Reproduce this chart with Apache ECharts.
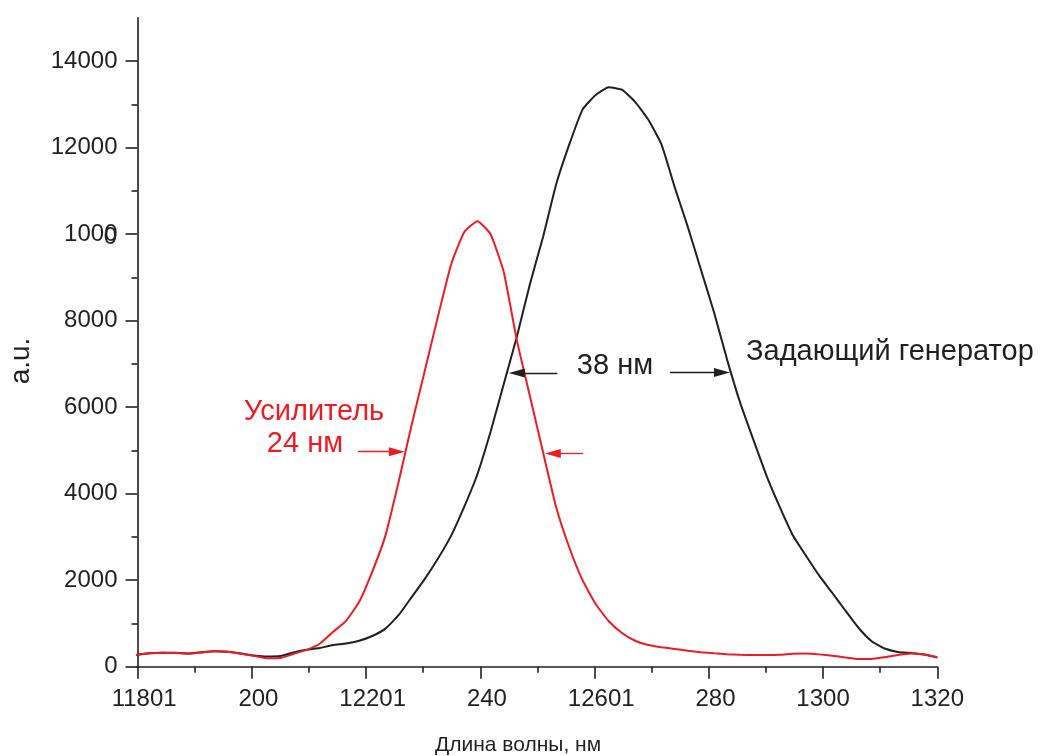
<!DOCTYPE html>
<html>
<head>
<meta charset="utf-8">
<script src="https://cdn.jsdelivr.net/npm/echarts@6/dist/echarts.min.js"></script>
<style>
  html, body { margin: 0; padding: 0; background: #fff; }
  #chart { width: 1041px; height: 756px; }
</style>
</head>
<body>
<div id="chart"></div>
<script>
// wavelength, nm
const wavelength = [
  1179.7, 1182.0, 1184.3, 1186.6, 1188.9, 1191.2, 1193.5, 1195.8, 1198.1, 1200.4,
  1202.7, 1205.0, 1207.3, 1209.6, 1211.9, 1214.2, 1216.5, 1218.8, 1221.1, 1223.4,
  1225.7, 1228.0, 1230.3, 1232.6, 1234.9, 1237.2, 1239.5, 1241.8, 1244.1, 1246.4,
  1248.7, 1251.0, 1253.3, 1255.6, 1257.9, 1260.2, 1262.5, 1264.8, 1267.1, 1269.4,
  1271.7, 1274.0, 1276.3, 1278.6, 1280.9, 1283.2, 1285.5, 1287.8, 1290.1, 1292.4,
  1294.7, 1297.0, 1299.3, 1301.6, 1303.9, 1306.2, 1308.5, 1310.8, 1313.1, 1315.4,
  1317.7, 1320.0
];
// задающий генератор (black)
const generator = [
  270, 310, 325, 320, 305, 335, 360, 345, 305, 260,
  235, 245, 330, 390, 430, 500, 535, 600, 710, 880,
  1190, 1610, 2030, 2500, 3030, 3700, 4450, 5430, 6530, 7630,
  8850, 9940, 11160, 12080, 12880, 13220, 13395, 13340, 13060, 12650,
  12080, 11100, 10180, 9190, 8200, 7100, 6100, 5250, 4420, 3700,
  3040, 2570, 2110, 1710, 1300, 900, 590, 420, 340, 315,
  280, 210
];
// усилитель (red)
const amplifier = [
  270, 310, 325, 315, 300, 330, 360, 345, 300, 250,
  195, 200, 295, 390, 530, 800, 1060, 1500, 2200, 3030,
  4270, 5600, 6850, 8100, 9300, 10050, 10300, 10000, 9130, 7550,
  6250, 4950, 3680, 2750, 2000, 1450, 1050, 780, 600, 500,
  450, 410, 370, 335, 310, 290, 275, 270, 270, 275,
  300, 305, 285, 255, 215, 180, 180, 220, 270, 305,
  280, 220
];
// tick labels as printed in the figure
const xTickLabels = {
  1180: '{h|1}11801', 1200: '{h|1}200', 1220: '{h|1}12201', 1240: '{h|1}240',
  1260: '{h|1}12601', 1280: '{h|1}280', 1300: '1300', 1320: '1320'
};
const yMajorTicks = [0, 2000, 4000, 6000, 8000, 10000, 12000, 14000];
const yMinorTicks = [1000, 3000, 5000, 7000, 9000, 11000, 13000];
const yTickLabels = { 10000: '1000' };

const BLACK = '#231f20';
const RED = '#ed1c24';
const FONT = 'Liberation Sans, Arial, sans-serif';

const chart = echarts.init(document.getElementById('chart'));

const pairs = (ys) => wavelength.map((x, i) => [x, ys[i]]);

const arrow = (x1, x2, y, color) => ({
  silent: true,
  animation: false,
  symbol: ['none', 'triangle'],
  symbolSize: [0, 12],
  label: { show: false },
  emphasis: { disabled: true },
  lineStyle: { color: color, width: 1.3, type: 'solid' },
  data: [[{ coord: [x1, y] }, { coord: [x2, y], symbolSize: [9, 16] }]]
});

chart.setOption({
  animation: false,
  grid: { left: 137.5, right: 103.7, top: 17.9, bottom: 89.3 },
  xAxis: {
    type: 'value',
    min: 1180,
    max: 1320,
    interval: 20,
    splitLine: { show: false },
    axisLine: { lineStyle: { color: BLACK, width: 1.6 } },
    axisTick: { length: 12, lineStyle: { color: BLACK, width: 1.6 } },
    minorTick: { show: true, splitNumber: 2, length: 6, lineStyle: { color: BLACK, width: 1.6 } },
    axisLabel: {
      margin: 21,
      color: BLACK,
      fontSize: 24,
      fontFamily: FONT,
      formatter: (v) => xTickLabels[v] || String(v),
      rich: { h: { fontSize: 24, fontFamily: FONT, color: 'rgba(0,0,0,0)' } }
    }
  },
  yAxis: [
    {
      type: 'value',
      min: 0,
      max: 15000,
      interval: 2000,
      position: 'left',
      splitLine: { show: false },
      axisLine: { show: true, lineStyle: { color: BLACK, width: 1.6 } },
      axisTick: { show: true, length: 12, customValues: yMajorTicks, lineStyle: { color: BLACK, width: 1.6 } },
      axisLabel: {
        margin: 20,
        color: BLACK,
        fontSize: 24,
        fontFamily: FONT,
        customValues: yMajorTicks,
        formatter: (v) => yTickLabels[v] || String(v)
      }
    },
    {
      type: 'value',
      min: 0,
      max: 15000,
      position: 'left',
      splitLine: { show: false },
      axisLine: { show: false },
      axisTick: { show: true, length: 6, customValues: yMinorTicks, lineStyle: { color: BLACK, width: 1.6 } },
      axisLabel: { show: false }
    }
  ],
  series: [
    {
      name: 'Задающий генератор',
      type: 'line',
      data: pairs(generator),
      showSymbol: false,
      smooth: 0.15,
      clip: false,
      lineStyle: { color: BLACK, width: 2 },
      markLine: arrow(1253.5, 1246.4, 6790, BLACK)
    },
    {
      name: 'Усилитель',
      type: 'line',
      data: pairs(amplifier),
      showSymbol: false,
      smooth: 0.15,
      clip: false,
      lineStyle: { color: RED, width: 2 },
      markLine: arrow(1218.6, 1225.4, 4970, RED)
    },
    {
      type: 'line',
      data: [],
      markLine: arrow(1258.0, 1252.7, 4930, RED)
    },
    {
      type: 'line',
      data: [],
      markLine: arrow(1273.2, 1282.3, 6800, BLACK)
    }
  ]
});

const axisX = chart.convertToPixel({ xAxisIndex: 0 }, 1180);
const tenK = chart.convertToPixel({ yAxisIndex: 0 }, 10000);

const txt = (text, x, y, size, color, extra) => Object.assign({
  type: 'text',
  x: x,
  y: y,
  silent: true,
  style: {
    text: text,
    fill: color,
    font: size + 'px ' + FONT,
    textAlign: 'center',
    textVerticalAlign: 'middle'
  }
}, extra || {});

chart.setOption({
  graphic: [
    // stray zero printed over the 10000 label
    { type: 'text', x: axisX - 20.5, y: tenK + 3, silent: true,
      style: { text: '0', fill: BLACK, font: '24px ' + FONT, textAlign: 'right', textVerticalAlign: 'middle' } },
    txt('Усилитель', 314, 412, 29, RED),
    txt('24 нм', 305, 444, 29, RED),
    txt('38 нм', 615, 366, 29, BLACK),
    { type: 'text', x: 746, y: 352, silent: true,
      style: { text: 'Задающий генератор', fill: BLACK, font: '29px ' + FONT, textAlign: 'left', textVerticalAlign: 'middle' } },
    { type: 'text', x: 435, y: 745, silent: true,
      style: { text: 'Длина волны, нм', fill: BLACK, font: '21px ' + FONT, textAlign: 'left', textVerticalAlign: 'middle' } },
    txt('a.u.', 21, 361, 28, BLACK, { rotation: Math.PI / 2 })
  ]
});
</script>
</body>
</html>
